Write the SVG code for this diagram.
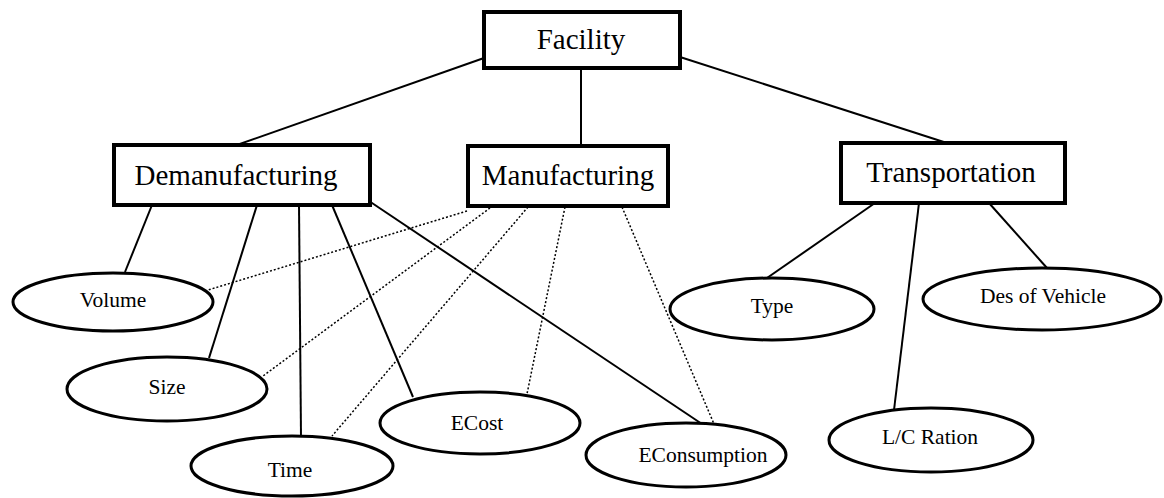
<svg xmlns="http://www.w3.org/2000/svg" width="1164" height="498" viewBox="0 0 1164 498">
<style>
.box{fill:#fff;stroke:#000;stroke-width:4}
.ell{fill:#fff;stroke:#000;stroke-width:3}
.bt{font-family:"Liberation Serif","Times New Roman",serif;font-size:29px;text-anchor:middle;fill:#000}
.et{font-family:"Liberation Serif","Times New Roman",serif;font-size:21.5px;text-anchor:middle;fill:#000}
.s{stroke:#000;stroke-width:2;fill:none}
.d{stroke:#000;stroke-width:1.5;stroke-dasharray:2 2;fill:none}
</style>
<rect width="1164" height="498" fill="#fff"/>
<g id="connectors">
<line class="s" x1="484" y1="58" x2="234" y2="146"/>
<line class="s" x1="581" y1="68" x2="581" y2="148"/>
<line class="s" x1="680" y1="57" x2="950" y2="144"/>
<line class="s" x1="152" y1="205" x2="125" y2="272"/>
<line class="s" x1="257" y1="205" x2="209" y2="358"/>
<line class="s" x1="299" y1="205" x2="301" y2="437"/>
<line class="s" x1="332" y1="205" x2="413" y2="397"/>
<line class="s" x1="369" y1="201" x2="702" y2="424"/>
<line class="d" x1="467" y1="211" x2="208" y2="290"/>
<line class="d" x1="490" y1="208" x2="263" y2="376"/>
<line class="d" x1="528" y1="207" x2="332" y2="436"/>
<line class="d" x1="565" y1="207" x2="527" y2="394"/>
<line class="d" x1="622" y1="207" x2="714" y2="424"/>
<line class="s" x1="875" y1="203" x2="767" y2="278"/>
<line class="s" x1="919" y1="203" x2="894" y2="410"/>
<line class="s" x1="989" y1="203" x2="1047" y2="268"/>
</g>
<g id="facility"><rect class="box" x="484" y="12" width="196" height="56"/><text class="bt" x="581" y="49">Facility</text></g>
<g id="demanufacturing"><rect class="box" x="114" y="145" width="256" height="60"/><text class="bt" x="236" y="185">Demanufacturing</text></g>
<g id="manufacturing"><rect class="box" x="468" y="146" width="200" height="60"/><text class="bt" x="568" y="185">Manufacturing</text></g>
<g id="transportation"><rect class="box" x="841" y="143" width="224" height="60"/><text class="bt" x="951" y="182">Transportation</text></g>
<g id="volume"><ellipse class="ell" cx="113" cy="302" rx="100" ry="29"/><text class="et" x="113" y="307">Volume</text></g>
<g id="size"><ellipse class="ell" cx="167" cy="389" rx="100" ry="32"/><text class="et" x="167" y="394">Size</text></g>
<g id="time"><ellipse class="ell" cx="292" cy="466" rx="101" ry="30"/><text class="et" x="290" y="477">Time</text></g>
<g id="ecost"><ellipse class="ell" cx="480" cy="423" rx="100" ry="31"/><text class="et" x="477" y="430">ECost</text></g>
<g id="econsumption"><ellipse class="ell" cx="686" cy="455" rx="100" ry="32"/><text class="et" x="703" y="462">EConsumption</text></g>
<g id="type"><ellipse class="ell" cx="772" cy="309" rx="102" ry="31"/><text class="et" x="772" y="313">Type</text></g>
<g id="des-of-vehicle"><ellipse class="ell" cx="1042" cy="299" rx="119" ry="31"/><text class="et" x="1043" y="303">Des of Vehicle</text></g>
<g id="lc-ration"><ellipse class="ell" cx="931" cy="440" rx="102" ry="32"/><text class="et" x="930" y="444">L/C Ration</text></g>
</svg>
